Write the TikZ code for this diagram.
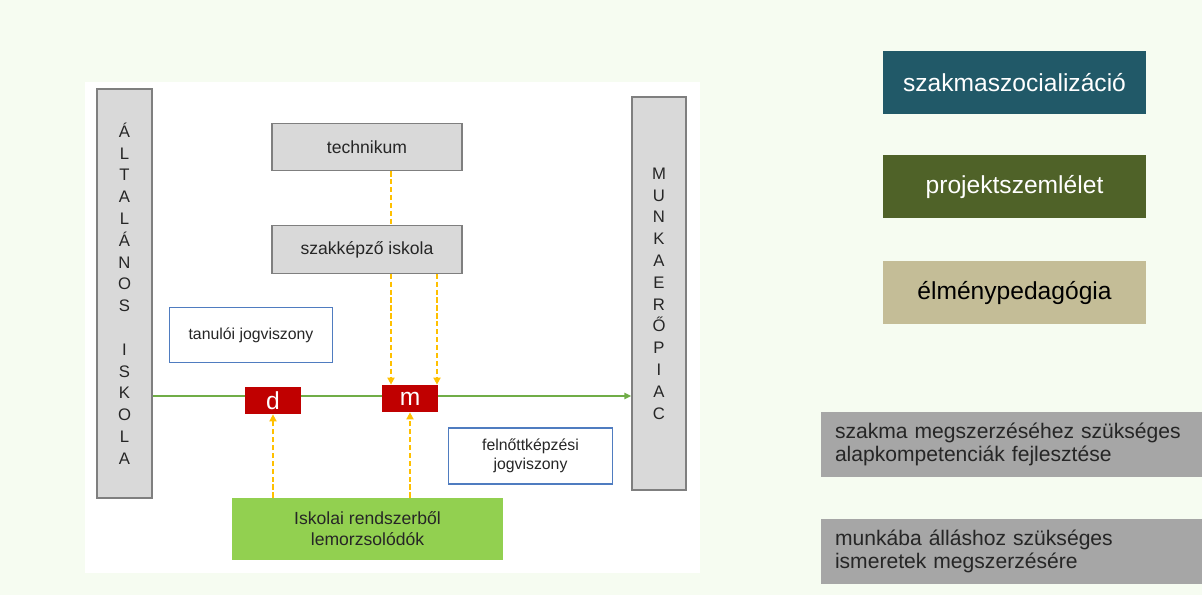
\documentclass[tikz,border=0pt]{standalone}
\usepackage{fontspec}
\setmainfont{Liberation Sans}
\usetikzlibrary{arrows.meta}
\definecolor{mint}{HTML}{F6FCF1}
\definecolor{barfill}{HTML}{D9D9D9}
\definecolor{barline}{HTML}{7F7F7F}
\definecolor{frameblue}{HTML}{4F7CC0}
\definecolor{examred}{HTML}{C00000}
\definecolor{linegreen}{HTML}{70AD47}
\definecolor{dropgreen}{HTML}{92D050}
\definecolor{dashorange}{HTML}{FFC000}
\definecolor{teal}{HTML}{215968}
\definecolor{olive}{HTML}{4F6228}
\definecolor{tan}{HTML}{C4BD97}
\definecolor{goalgray}{HTML}{A6A6A6}
\definecolor{darktext}{HTML}{262626}
\tikzset{
	pillar/.style={draw=barline,fill=barfill,line width=0.7pt,minimum width=1.1cm,align=center,text=darktext,font=\fontsize{9.5}{12.4}\selectfont},
	school/.style={draw=barline,fill=barfill,line width=0.6pt,minimum width=3.8cm,minimum height=0.95cm,text=darktext,font=\fontsize{10}{12}\selectfont},
	status/.style={draw=frameblue,fill=white,line width=0.6pt,minimum width=3.27cm,minimum height=1.1cm,align=center,text=darktext,font=\fontsize{9}{11}\selectfont},
	exam/.style={fill=examred,text=white,minimum width=1.12cm,minimum height=0.54cm,inner sep=0pt,font=\fontsize{14}{14}\selectfont},
	theme/.style={minimum width=5.26cm,minimum height=1.26cm,font=\fontsize{14}{16}\selectfont},
	goal/.style={fill=goalgray,text=darktext,text width=7.06cm,inner xsep=0.28cm,minimum height=1.3cm,align=left,font=\fontsize{12}{13}\selectfont},
	dasharr/.style={draw=dashorange,line width=0.9pt,dash pattern=on 3pt off 1.5pt}
}

\begin{document}
\begin{tikzpicture}
	% background
	\fill[mint] (0,0) rectangle (24.04,-11.9);
	\fill[white] (1.7,-1.64) rectangle (14,-11.46);

	\node [pillar,minimum height=8.18cm] (alt) at (2.49,-5.87) {Á\\L\\T\\A\\L\\Á\\N\\O\\S\\\mbox{}\\I\\S\\K\\O\\L\\A};
	\node [pillar,minimum height=7.86cm,minimum width=1.08cm] (piac) at (13.18,-5.87) {M\\U\\N\\K\\A\\E\\R\\Ő\\P\\I\\A\\C};

	\node [school] (techn) at (7.34,-2.94) {technikum};
	\node [school] (szak) at (7.34,-4.99) {szakképző iskola};

	\node [status] (tanulo) at (5.02,-6.7) {tanulói jogviszony};
	\node [status,minimum height=1.12cm] (felnott) at (10.61,-9.12) {felnőttképzési\\jogviszony};

	\coordinate (path) at (0,-7.92);
	\draw [linegreen,line width=1.1pt,-{Triangle[length=4pt,width=3.5pt]}] (alt.east |- path) -- (piac.west |- path);

	\node [exam] (d) at (5.46,-8.01) {d};
	\node [exam] (m) at (8.2,-7.97) {m};

	\node [fill=dropgreen,minimum width=5.42cm,minimum height=1.24cm,align=center,text=darktext,font=\fontsize{10}{12}\selectfont] (drop) at (7.35,-10.58) {Iskolai rendszerből\\lemorzsolódók};

	\coordinate (a1) at (7.82,0);
	\coordinate (a2) at (8.74,0);
	\draw [dasharr] (techn.south -| a1) -- (szak.north -| a1);
	\draw [dasharr,-{Triangle[length=4pt,width=4pt]}] (szak.south -| a1) -- (m.north -| a1);
	\draw [dasharr,-{Triangle[length=4pt,width=4pt]}] (szak.south -| a2) -- (m.north -| a2);
	\draw [dasharr,-{Triangle[length=4pt,width=4pt]}] (drop.north -| d) -- (d.south);
	\draw [dasharr,-{Triangle[length=4pt,width=4pt]}] (drop.north -| m) -- (m.south);

	\node [theme,fill=teal,text=white] (szoc) at (20.29,-1.65) {szakmaszocializáció};
	\node [theme,fill=olive,text=white] (proj) at (20.29,-3.74) {projektszemlélet};
	\node [theme,fill=tan,text=black] (elmeny) at (20.29,-5.86) {élménypedagógia};

	\node [goal] (alap) at (20.23,-8.89) {szakma megszerzéséhez szükséges\\alapkompetenciák fejlesztése};
	\node [goal] (munka) at (20.23,-11.03) {munkába álláshoz szükséges\\ismeretek megszerzésére};
\end{tikzpicture}
\end{document}
